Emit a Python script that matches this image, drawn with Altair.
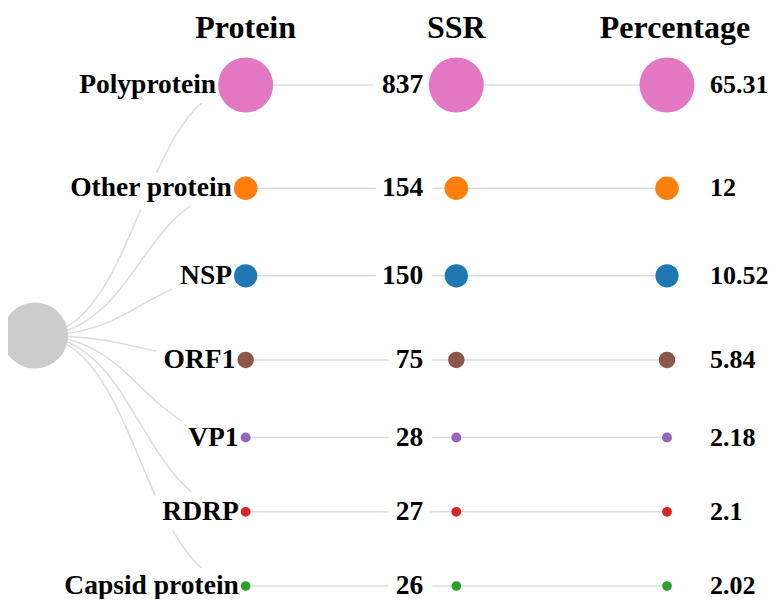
import math
import altair as alt
import pandas as pd

# ---- data ----
proteins = ["Polyprotein", "Other protein", "NSP", "ORF1", "VP1", "RDRP", "Capsid protein"]
ssr_counts = [837, 154, 150, 75, 28, 27, 26]
percentages = [65.31, 12, 10.52, 5.84, 2.18, 2.1, 2.02]
headers = ["Protein", "SSR", "Percentage"]
palette = ["#e377c2", "#ff7f0e", "#1f77b4", "#8c564b", "#9467bd", "#d62728", "#2ca02c"]

# ---- layout / style constants ----
MAX_R = 27.5
ROOT_R = 33
ROW_GAP = 65.5
X0, X3 = 27, 659
Y_TOP, Y_BOT = 77, 578
PX_PER_DEPTH = (X3 - X0) / 3
FONT = "Liberation Serif"
LINK = "#dddddd"
FS = 27.5

radius = [MAX_R * math.sqrt(v / max(ssr_counts)) for v in ssr_counts]
ys = [0.0]
for i in range(1, len(proteins)):
    ys.append(ys[-1] + ROW_GAP + radius[i - 1] + radius[i])
root_y = (ys[0] + ys[-1]) / 2

node_rows = []
for i, p in enumerate(proteins):
    for d in (1, 2, 3):
        node_rows.append({"protein": p, "depth": d, "y": ys[i], "ssr": ssr_counts[i]})
nodes = pd.DataFrame(node_rows)

labels = pd.DataFrame({
    "protein": proteins,
    "y": ys,
    "ssr_txt": [str(v) for v in ssr_counts],
    "pct_txt": [f"{v:g}" for v in percentages],
    "lx": [1 - (r + 2) / PX_PER_DEPTH for r in radius],
    "d1": 1, "d2": 2, "d3": 3,
})

curve_rows = []
N = 40
for i, p in enumerate(proteins):
    for k in range(N + 1):
        t = k / N
        u = 1.5 * t * (1 - t) + t ** 3
        v = 3 * t ** 2 - 2 * t ** 3
        curve_rows.append({"protein": p, "k": k, "depth": u, "y": root_y + (ys[i] - root_y) * v})
curves = pd.DataFrame(curve_rows)

root = pd.DataFrame({"depth": [0], "y": [root_y]})
head = pd.DataFrame({"text": headers, "depth": [1, 2, 3], "shift": [0, 0, 8 / PX_PER_DEPTH]})
head["hx"] = head["depth"] + head["shift"]

xs = alt.Scale(domain=[0, 3], range=[X0, X3], zero=False, nice=False)
yscale = alt.Scale(domain=[0, ys[-1]], range=[Y_TOP, Y_BOT], zero=False, nice=False)
cscale = alt.Scale(domain=proteins, range=palette)
# Vega symbol size = area of bounding square -> (2r)^2
sscale = alt.Scale(type="linear", domain=[0, max(ssr_counts)], range=[0, 4 * MAX_R ** 2])

X = lambda f: alt.X(f, type="quantitative", scale=xs, axis=None)
Y = alt.Y("y:Q", scale=yscale, axis=None)

links = alt.Chart(curves).mark_line(color=LINK, strokeWidth=1.5).encode(
    x=X("depth"), y=Y, detail="protein:N", order="k:Q"
)
rules = alt.Chart(labels).mark_rule(color=LINK, strokeWidth=1.5).encode(
    x=X("d1"), x2="d3:Q", y=Y
)

def txt(field, xfield, align, dx, color="black", halo=False, size=FS):
    kw = dict(font=FONT, fontSize=size, fontWeight="bold", align=align, baseline="middle", dx=dx, color=color)
    if halo:
        kw.update(stroke="white", strokeWidth=20, strokeJoin="round")
    return alt.Chart(labels).mark_text(**kw).encode(x=X(xfield), y=Y, text=f"{field}:N")

halo_prot = txt("protein", "lx", "right", 0, "white", True)
halo_ssr = txt("ssr_txt", "d2", "right", -33, "white", True)

node_marks = alt.Chart(nodes).mark_circle(opacity=1).encode(
    x=X("depth"), y=Y,
    color=alt.Color("protein:N", scale=cscale, legend=None),
    size=alt.Size("ssr:Q", scale=sscale, legend=None),
)
root_mark = alt.Chart(root).mark_circle(opacity=1, color="#cccccc").encode(
    x=X("depth"), y=Y, size=alt.value(4 * ROOT_R ** 2)
)

t_prot = txt("protein", "lx", "right", 0)
t_ssr = txt("ssr_txt", "d2", "right", -33)
t_pct = txt("pct_txt", "d3", "left", 43, size=26)

t_head = alt.Chart(head).mark_text(
    font=FONT, fontSize=32, fontWeight="bold", align="center", baseline="middle", color="black"
).encode(x=X("hx"), y=alt.value(20), text="text:N")

chart = alt.layer(
    links, rules, halo_prot, halo_ssr, node_marks, root_mark, t_prot, t_ssr, t_pct, t_head
).properties(
    width=761, height=591, padding=0,
    autosize=alt.AutoSizeParams(type="none"),
).configure_view(stroke=None)

chart.save("out.html", embed_options={"renderer": "svg", "actions": False})
